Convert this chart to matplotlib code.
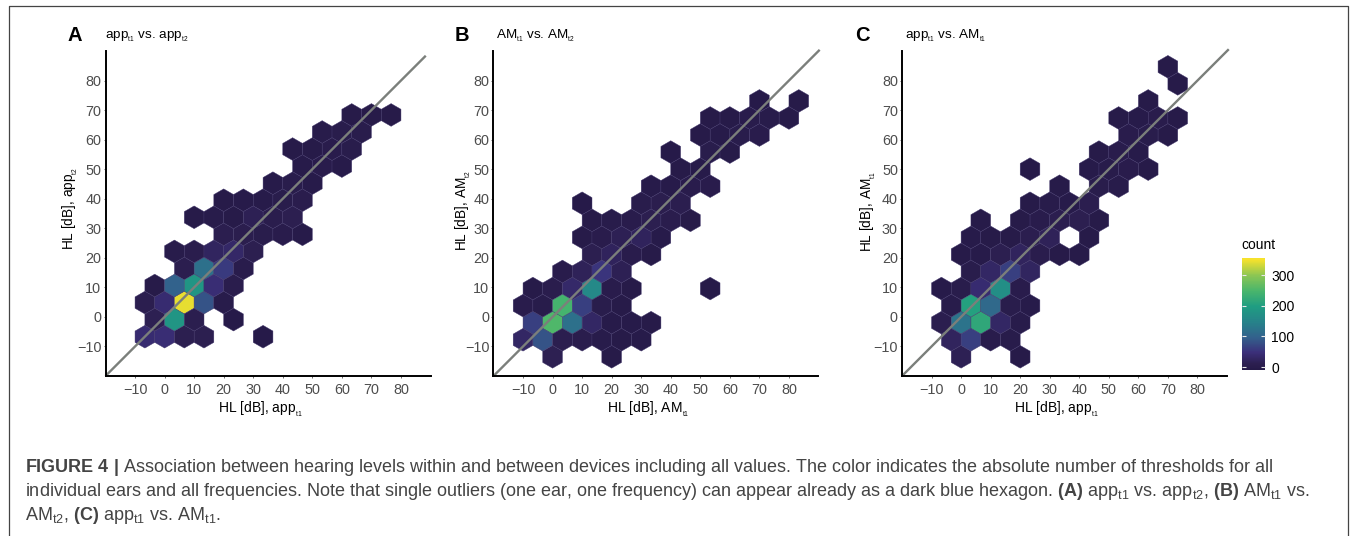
import matplotlib
matplotlib.use('Agg')
import matplotlib.pyplot as plt
import numpy as np
from matplotlib.colors import LinearSegmentedColormap, Normalize
from matplotlib.lines import Line2D

plt.rcParams['font.family'] = 'Liberation Sans'
plt.rcParams['mathtext.fontset'] = 'custom'
plt.rcParams['mathtext.rm'] = 'Liberation Sans'
plt.rcParams['mathtext.bf'] = 'Liberation Sans:bold'
plt.rcParams['mathtext.it'] = 'Liberation Sans:italic'

W = 1357
H = 536

# panel A, hexagons row by row
a_rows = [-6.7, -1.0, 4.7, 10.5, 16.3, 22.0, 28.0, 33.6, 39.4, 45.0, 51.0, 56.8, 62.5, 68.0]
a_x = [[-6.67, 0, 6.67, 13.3, 33.3],
       [-3.33, 3.33, 10, 23.3],
       [-6.67, 0, 6.67, 13.3, 20],
       [-3.33, 3.33, 10, 16.67, 23.3],
       [6.67, 13.3, 20, 26.67],
       [3.33, 10, 16.67, 23.3, 30],
       [20, 26.67, 33.3, 40, 46.67],
       [10, 16.67, 23.3, 30, 36.67, 43.3],
       [20, 26.67, 33.3, 40, 46.67],
       [36.67, 43.3, 50],
       [46.67, 53.3, 60],
       [43.3, 50, 56.67, 63.3],
       [53.3, 60, 66.67],
       [63.3, 70, 76.67]]
a_n = [[45, 50, 18, 18, 2],
       [20, 190, 15, 2],
       [15, 45, 350, 90, 5],
       [3, 105, 190, 50, 12],
       [15, 125, 65, 8],
       [5, 12, 32, 38, 18],
       [15, 14, 10, 8, 4],
       [3, 5, 3, 22, 12, 18],
       [3, 4, 4, 10, 12],
       [4, 10, 4],
       [4, 8, 4],
       [3, 3, 9, 10],
       [7, 10, 10],
       [3, 3, 3]]

# panel B
b_rows = [-13.5, -7.7, -1.9, 3.9, 9.8, 15.6, 21.4, 27.0, 33.0, 38.6, 44.4, 50.3, 56.0, 61.8, 67.4, 73.3]
b_x = [[0, 20],
       [-10, -3.33, 3.33, 10, 16.67, 23.3, 30],
       [-6.67, 0, 6.67, 13.3, 20, 26.67, 33.3],
       [-10, -3.33, 3.33, 10, 16.67, 23.3],
       [-6.67, 0, 6.67, 13.3, 20, 26.67, 53.3],
       [3.33, 10, 16.67, 23.3],
       [13.3, 20, 26.67, 33.3],
       [10, 16.67, 23.3, 30, 36.67],
       [13.3, 20, 26.67, 33.3, 40, 46.67],
       [10, 30, 36.67, 43.3],
       [33.3, 40, 46.67, 53.3],
       [43.3, 50],
       [40, 53.3, 60],
       [50, 56.67, 63.3, 70],
       [53.3, 60, 66.67, 73.3, 80],
       [70, 83.3]]
b_n = [[20, 3],
       [35, 90, 15, 12, 5, 3, 4],
       [70, 260, 125, 35, 4, 4, 3],
       [8, 6, 250, 70, 10, 3],
       [3, 12, 40, 165, 8, 3, 2],
       [8, 25, 60, 22],
       [18, 28, 8, 3],
       [3, 8, 22, 28, 4],
       [3, 6, 8, 18, 12, 3],
       [2, 10, 14, 16],
       [4, 4, 9, 9],
       [3, 4],
       [2, 10, 3],
       [3, 4, 10, 8],
       [3, 3, 8, 5, 3],
       [2, 3]]

# panel C
c_rows = [-13.5, -7.7, -1.9, 3.9, 9.8, 15.6, 21.4, 27.0, 33.0, 38.6, 44.4, 50.3, 56.0, 61.8, 67.4, 73.3, 79.0, 84.8]
c_x = [[0, 20],
       [-3.33, 3.33, 10, 16.67],
       [-6.67, 0, 6.67, 13.3, 20],
       [-3.33, 3.33, 10, 16.67, 23.3],
       [-6.67, 0, 6.67, 13.3, 20],
       [3.33, 10, 16.67, 23.3],
       [0, 6.67, 13.3, 20, 26.67, 33.3, 40],
       [3.33, 10, 16.67, 23.3, 30, 43.3],
       [6.67, 20, 26.67, 33.3, 40, 46.67],
       [23.3, 30, 36.67, 43.3],
       [33.3, 46.67, 53.3],
       [23.3, 43.3, 50, 56.67, 63.3],
       [46.67, 53.3, 60],
       [56.67, 63.3, 70],
       [53.3, 60, 66.67, 73.3],
       [63.3],
       [73.3],
       [70]]
c_n = [[22, 3],
       [30, 70, 8, 5],
       [15, 130, 225, 35, 6],
       [5, 210, 115, 10, 4],
       [4, 10, 45, 175, 8],
       [10, 35, 70, 32],
       [3, 4, 18, 30, 12, 3, 3],
       [4, 3, 3, 15, 26, 3],
       [3, 3, 8, 16, 18, 3],
       [3, 5, 4, 16],
       [3, 10, 6],
       [2, 4, 6, 9, 3],
       [3, 8, 4],
       [8, 10, 3],
       [3, 4, 9, 3],
       [3],
       [3],
       [3]]

ticks = [-10, 0, 10, 20, 30, 40, 50, 60, 70, 80]
tick_labels = ['\u221210', '0', '10', '20', '30', '40', '50', '60', '70', '80']
count_ticks = [0, 100, 200, 300]
count_min = -8
count_max = 358

panel_letters = ['A', 'B', 'C']
panel_titles = [r'app$_{_{\mathrm{t1}}}$ vs. app$_{_{\mathrm{t2}}}$',
                r'AM$_{_{\mathrm{t1}}}$ vs. AM$_{_{\mathrm{t2}}}$',
                r'app$_{_{\mathrm{t1}}}$ vs. AM$_{_{\mathrm{t1}}}$']
x_labels = [r'HL [dB], app$_{_{\mathrm{t1}}}$', r'HL [dB], AM$_{_{\mathrm{t1}}}$', r'HL [dB], app$_{_{\mathrm{t1}}}$']
y_labels = [r'HL [dB], app$_{_{\mathrm{t2}}}$', r'HL [dB], AM$_{_{\mathrm{t2}}}$', r'HL [dB], AM$_{_{\mathrm{t1}}}$']
diag_end = [88.4, 90.4, 90.6]

caption = [r'$\mathbf{FIGURE\ 4\ |}$ Association between hearing levels within and between devices including all values. The color indicates the absolute number of thresholds for all',
           r'individual ears and all frequencies. Note that single outliers (one ear, one frequency) can appear already as a dark blue hexagon. $\mathbf{(A)}$ app$_{\mathrm{t1}}$ vs. app$_{\mathrm{t2}}$, $\mathbf{(B)}$ AM$_{\mathrm{t1}}$ vs.',
           r'AM$_{\mathrm{t2}}$, $\mathbf{(C)}$ app$_{\mathrm{t1}}$ vs. AM$_{\mathrm{t1}}$.']

# muted viridis, the print version is darker at the low end
cmap = LinearSegmentedColormap.from_list('muted', [
    (0.00, '#231845'), (0.07, '#2c1f50'), (0.17, '#3b2f7a'), (0.30, '#33608c'),
    (0.43, '#27808a'), (0.58, '#1f9d82'), (0.72, '#49b56c'), (0.86, '#8cc653'),
    (1.00, '#f6e22c')])
norm = Normalize(count_min, count_max)


def box(left, top, right, bottom):
    return [left / W, 1 - bottom / H, (right - left) / W, (bottom - top) / H]


fig = plt.figure(figsize=(W / 100, H / 100), dpi=100)

# outer frame, open at the bottom
frame_x = [8.5 / W, 8.5 / W, 1348 / W, 1348 / W]
frame_y = [0, 1 - 6 / H, 1 - 6 / H, 0]
fig.add_artist(Line2D(frame_x, frame_y, color='#444444', lw=0.9))

lefts = [105.5, 493.5, 902]
ylabel_off = [-26, -20, -24]
ylabel_y = [208, 211, 212]
panels = [(a_rows, a_x, a_n, -6.7), (b_rows, b_x, b_n, -13.5), (c_rows, c_x, c_n, -13.5)]

for i, (rows, xs, ns, y_first) in enumerate(panels):
    ax = fig.add_axes(box(lefts[i], 51, lefts[i] + 325, 376))
    px = []
    py = []
    pn = []
    for y, row_x, row_n in zip(rows, xs, ns):
        for x, n in zip(row_x, row_n):
            px.append(x)
            py.append(y)
            pn.append(n)
    sx = 20 / 3
    sy = sx * np.sqrt(3)
    ymin = y_first - 2 * sy
    hb = ax.hexbin(px, py, C=pn, gridsize=(20, 11), reduce_C_function=np.sum,
                   extent=(-80 / 3, -80 / 3 + 20 * sx, ymin, ymin + 11 * sy),
                   cmap=cmap, norm=norm, edgecolors='#40356a', linewidths=0.3)
    ax.plot([-20, diag_end[i]], [-20, diag_end[i]], color='#7b7f7b', lw=1.7,
            clip_on=False, solid_capstyle='butt')
    ax.set_xlim(-20, 90)
    ax.set_ylim(-20, 90)
    ax.set_xticks(ticks)
    ax.set_xticklabels(tick_labels)
    ax.set_yticks(ticks)
    ax.set_yticklabels(tick_labels)
    ax.tick_params(labelsize=10.4, labelcolor='#4d4d4d', color='#555555', length=1.5,
                   width=0.6, pad=1.5)
    ax.tick_params(axis='x', pad=3.5)
    ax.spines['top'].set_visible(False)
    ax.spines['right'].set_visible(False)
    ax.spines['left'].set_linewidth(1.4)
    ax.spines['bottom'].set_linewidth(1.4)
    ax.patch.set_alpha(0)
    ax.set_xlabel(x_labels[i], fontsize=10)
    ax.set_ylabel(y_labels[i], fontsize=9.8)
    ax.xaxis.set_label_coords((325 / 2 - 8) / 325, -24 / 325)
    ax.yaxis.set_label_coords(ylabel_off[i] / 325, (376 - ylabel_y[i]) / 325)

letter_x = [67, 455, 855]
title_x = [105, 496, 905]
for i in range(3):
    fig.text(letter_x[i] / W, 1 - 41 / H, panel_letters[i], fontsize=14.5, fontweight='bold')
    fig.text(title_x[i] / W, 1 - 38 / H, panel_titles[i], fontsize=9.7)

# colour bar
cax = fig.add_axes(box(1241.5, 257.5, 1264.5, 369.5))
cb = fig.colorbar(hb, cax=cax, ticks=count_ticks)
cb.outline.set_visible(False)
cb.ax.tick_params(direction='in', left=True, right=True, color='#e8e8e8', length=3.2,
                  width=0.8, labelsize=10, pad=5)
cb.solids.set_edgecolor('face')
fig.text(1241 / W, 1 - 249 / H, 'count', fontsize=10)

# caption
cap_y = [472, 496, 520]
for y, line in zip(cap_y, caption):
    fig.text(25 / W, 1 - y / H, line, fontsize=13, color='#444444')

plt.savefig('out.png', dpi=100)
